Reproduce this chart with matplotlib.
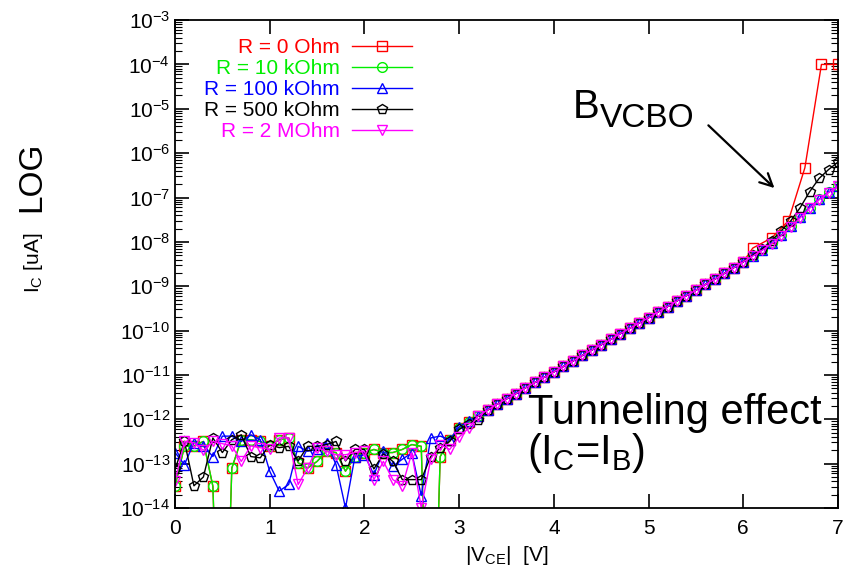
import numpy as np
import matplotlib
matplotlib.use("Agg")
import matplotlib.pyplot as plt
from matplotlib.ticker import LogLocator, NullFormatter

plt.rcParams['font.family'] = ['Liberation Sans', 'DejaVu Sans']
plt.rcParams['mathtext.fontset'] = 'custom'
plt.rcParams['mathtext.rm'] = 'Liberation Sans'
plt.rcParams['mathtext.it'] = 'Liberation Sans:italic'
plt.rcParams['mathtext.bf'] = 'Liberation Sans:bold'

# ---- data (log10 of I_C) ----
v = [round(0.1 * i, 1) for i in range(71)]   # 0.0 ... 7.0 V

# 0.0 ... 3.2 V (noise floor), one list per resistor
noise_0 = [-13.51, -12.61, -12.60, -12.50, -13.51, -20.0, -13.10, -12.46, -12.46, -12.50,
           -12.60, -12.46, -12.42, -12.98, -13.10, -12.95, -12.72, -12.75, -13.17, -12.84,
           -12.76, -12.68, -12.75, -12.75, -12.68, -12.57, -12.61, -20.0, -12.84, -12.46,
           -12.20, -12.06, -11.92]
noise_10k = noise_0
noise_100k = [-12.75, -13.02, -12.53, -12.60, -12.84, -12.38, -12.38, -12.50, -12.35, -12.46,
              -13.17, -13.62, -13.47, -12.61, -12.72, -12.68, -12.53, -13.02, -14.00, -12.84,
              -12.80, -13.25, -12.72, -13.06, -12.90, -12.76, -13.72, -12.42, -12.38, -12.46,
              -12.17, -12.04, -11.92]
noise_500k = [-13.13, -12.50, -13.50, -13.30, -12.42, -12.75, -12.46, -12.35, -12.84, -12.87,
              -12.57, -12.64, -12.61, -12.94, -12.61, -12.61, -12.57, -12.50, -12.94, -12.68,
              -12.68, -13.12, -12.78, -12.95, -13.36, -13.36, -13.36, -12.84, -12.65, -12.50,
              -12.23, -12.10, -12.02]
noise_2M = [-13.40, -12.50, -12.53, -12.70, -12.50, -12.55, -12.60, -12.95, -12.60, -12.64,
            -12.68, -12.42, -12.42, -13.47, -13.10, -12.64, -12.72, -12.80, -12.80, -12.75,
            -12.72, -13.36, -12.95, -13.36, -13.50, -12.76, -14.00, -12.90, -12.57, -12.68,
            -12.40, -12.20, -11.93]

# 3.3 ... 6.0 V, common to all curves
tunnel = [-11.79, -11.66, -11.54, -11.42, -11.29, -11.17, -11.05, -10.93, -10.81, -10.69,
          -10.56, -10.44, -10.32, -10.20, -10.07, -9.95, -9.83, -9.71, -9.58, -9.46,
          -9.33, -9.21, -9.09, -8.96, -8.84, -8.71, -8.58, -8.45]

# 6.1 ... 7.0 V
tail_10k = [-8.31, -8.18, -8.03, -7.85, -7.65, -7.44, -7.23, -7.04, -6.88, -6.74]
tail_100k = [-8.31, -8.18, -8.03, -7.85, -7.65, -7.44, -7.23, -7.04, -6.88, -6.74]
tail_500k = [-8.30, -8.15, -7.97, -7.75, -7.53, -7.23, -6.87, -6.57, -6.37, -6.20]
tail_2M = [-8.32, -8.19, -8.04, -7.86, -7.66, -7.46, -7.24, -7.05, -6.89, -6.75]
# R = 0 has coarser points near breakdown
tail_0_v = [6.1, 6.3, 6.475, 6.65, 6.825, 7.0]
tail_0 = [-8.14, -7.91, -7.53, -6.33, -4.00, -4.00]

labels = ['R = 0 Ohm', 'R = 10 kOhm', 'R = 100 kOhm', 'R = 500 kOhm', 'R = 2 MOhm']
colors = ['#ff0000', '#00ee00', '#0000ff', '#000000', '#ff00ff']
markers = ['s', 'o', '^', 'p', 'v']

series = [
    (v[:61] + tail_0_v, noise_0 + tunnel + tail_0),
    (v, noise_10k + tunnel + tail_10k),
    (v, noise_100k + tunnel + tail_100k),
    (v, noise_500k + tunnel + tail_500k),
    (v, noise_2M + tunnel + tail_2M),
]

fig = plt.figure(figsize=(8.47, 5.74), dpi=100)
ax = fig.add_axes([0.2066, 0.115, 0.7828, 0.850])

for (xs, ys), lab, c, m in zip(series, labels, colors, markers):
    ax.plot(xs, 10 ** np.array(ys), color=c, marker=m, mfc='none', mec=c,
            ms=7, mew=1.0, lw=1.0, label=lab)

ax.set_yscale('log')
ax.set_xlim(0, 7)
ax.set_ylim(1e-14, 1e-3)
ax.set_xticks(range(8))
ax.yaxis.set_major_locator(LogLocator(base=10, numticks=20))
ax.yaxis.set_minor_locator(LogLocator(base=10, subs=np.arange(2, 10), numticks=200))
ax.yaxis.set_minor_formatter(NullFormatter())
ax.tick_params(which='both', direction='in', top=True, right=True, labelsize=15)
ax.tick_params(which='major', length=10, width=1.2)
ax.tick_params(which='minor', length=5, width=0.8)
ax.tick_params(axis='x', pad=8)
for s in ax.spines.values():
    s.set_linewidth(1.3)

ax.set_xlabel(r'|V$_\mathrm{CE}$|  [V]', fontsize=15, labelpad=4)
fig.text(0.038, 0.692, 'LOG', rotation=90, fontsize=24, ha='center', va='center')
fig.text(0.040, 0.542, r'I$_\mathrm{C}$ [uA]', rotation=90, fontsize=15,
         ha='center', va='center')

leg = ax.legend(loc='upper right', bbox_to_anchor=(0.357, 0.963), frameon=False,
                markerfirst=False, labelcolor='linecolor', fontsize=15,
                handlelength=2.85, handletextpad=0.6, labelspacing=0.1,
                borderaxespad=0.0, borderpad=0.0)

# B_VCBO with a gnuplot-like large subscript
ax.text(4.2, 10 ** -5.2, 'B', fontsize=29, ha='left', va='baseline')
ax.annotate('VCBO', xy=(4.2, 10 ** -5.2), xytext=(19.5, -7), textcoords='offset points',
            fontsize=24, ha='left', va='baseline')
ax.annotate('', xy=(6.35, 10 ** -6.83), xytext=(5.61, 10 ** -5.33),
            arrowprops=dict(arrowstyle='->,head_length=0.9,head_width=0.45', lw=1.6,
                            color='black'))
ax.text(3.73, 10 ** -12.10, 'Tunneling effect', fontsize=30, ha='left', va='baseline')
ax.text(3.72, 10 ** -13.0, r'(I$_\mathrm{C}$=I$_\mathrm{B}$)', fontsize=30,
        ha='left', va='baseline')

fig.savefig('out.png', dpi=100)
